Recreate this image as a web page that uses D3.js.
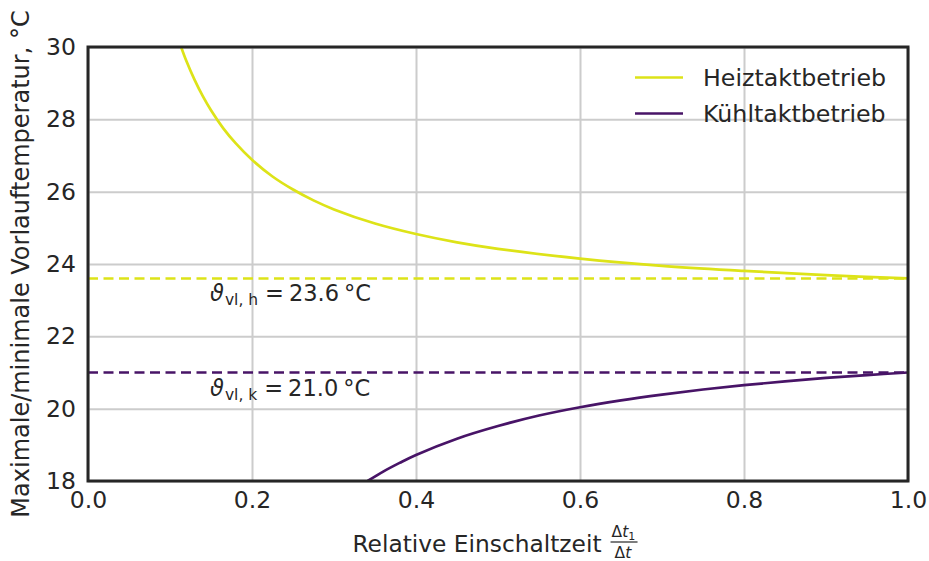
<!DOCTYPE html>
<html>
<head>
<meta charset="utf-8">
<script src="https://cdn.jsdelivr.net/npm/d3@7"></script>
<style>
body { margin: 0; background: #fff; }
text { font-family: "DejaVu Sans", sans-serif; fill: #262626; }
</style>
</head>
<body>
<svg width="929" height="561"></svg>
<script>
// relative on-time and flow temperature
var heatX = [0.112, 0.12, 0.13, 0.14, 0.15, 0.165, 0.18, 0.2, 0.225, 0.25, 0.275, 0.3, 0.35, 0.4, 0.45, 0.5, 0.6, 0.7, 0.8, 0.9, 1.0];
var heatY = [30.1, 29.61, 29.09, 28.64, 28.25, 27.75, 27.34, 26.88, 26.42, 26.06, 25.76, 25.51, 25.12, 24.83, 24.6, 24.42, 24.15, 23.95, 23.81, 23.69, 23.6];
var coolX = [0.341, 0.36, 0.38, 0.4, 0.45, 0.5, 0.55, 0.6, 0.65, 0.7, 0.75, 0.8, 0.85, 0.9, 0.95, 1.0];
var coolY = [18.0, 18.26, 18.5, 18.72, 19.17, 19.52, 19.81, 20.04, 20.23, 20.39, 20.53, 20.65, 20.755, 20.85, 20.93, 21.0];

// steady state limits (dashed) and their labels
var limits = [23.6, 21.0];
var limitSubs = ["vl, h", "vl, k"];
var limitText = ["23.6", "21.0"];

var seriesNames = ["Heiztaktbetrieb", "Kühltaktbetrieb"];
var colors = ["#dde318", "#481467"];

var xTicks = [0, 0.2, 0.4, 0.6, 0.8, 1.0];
var yTicks = [18, 20, 22, 24, 26, 28, 30];

var margin = {top: 47, right: 21, bottom: 80, left: 88},
    width = 929 - margin.left - margin.right,
    height = 561 - margin.top - margin.bottom;

var svg = d3.select("svg");
var g = svg.append("g")
    .attr("transform", "translate(" + margin.left + "," + margin.top + ")");

var x = d3.scaleLinear().domain([0, 1]).range([0, width]);
var y = d3.scaleLinear().domain([18, 30]).range([height, 0]);

g.append("clipPath").attr("id", "clip")
  .append("rect").attr("width", width).attr("height", height);

// grid
var xAxis = d3.axisBottom(x).tickValues(xTicks).tickSize(-height).tickPadding(10)
    .tickFormat(d3.format(".1f"));
var yAxis = d3.axisLeft(y).tickValues(yTicks).tickSize(-width).tickPadding(12)
    .tickFormat(d3.format("d"));

var gx = g.append("g").attr("transform", "translate(0," + height + ")").call(xAxis);
var gy = g.append("g").call(yAxis);
[gx, gy].forEach(function (a) {
    a.select(".domain").remove();
    a.selectAll(".tick line").attr("stroke", "#cccccc").attr("stroke-width", 2);
    a.selectAll(".tick text").style("font-size", "23.5px").attr("fill", "#262626");
});
gx.selectAll(".tick text").attr("dy", "0.71em");

var plot = g.append("g").attr("clip-path", "url(#clip)");

// dashed limits
limits.forEach(function (v, i) {
    plot.append("line")
        .attr("x1", x(0)).attr("x2", x(1))
        .attr("y1", y(v)).attr("y2", y(v))
        .attr("stroke", colors[i])
        .attr("stroke-width", 2.6)
        .attr("stroke-dasharray", "10,5.5");
});

var line = d3.line()
    .x(function (d) { return x(d[0]); })
    .y(function (d) { return y(d[1]); })
    .curve(d3.curveCatmullRom.alpha(0.5));

var series = [d3.zip(heatX, heatY), d3.zip(coolX, coolY)];
series.forEach(function (s, i) {
    plot.append("path")
        .datum(s)
        .attr("d", line)
        .attr("fill", "none")
        .attr("stroke", colors[i])
        .attr("stroke-width", 2.7);
});

// limit annotations
limits.forEach(function (v, i) {
    var t = g.append("text")
        .attr("x", x(0.15) - 1)
        .attr("y", y(v) + 23)
        .style("font-size", "22.5px");
    t.append("tspan").style("font-style", "italic").text("ϑ");
    t.append("tspan").style("font-size", "15.5px").attr("dx", 1).attr("dy", 4).text(limitSubs[i]);
    t.append("tspan").attr("dx", 7).attr("dy", -4).text("=");
    t.append("tspan").attr("dx", 5).text(limitText[i]);
    t.append("tspan").attr("dx", 5).text("°C");
});

// frame
g.append("rect")
    .attr("width", width).attr("height", height)
    .attr("fill", "none")
    .attr("stroke", "#262626")
    .attr("stroke-width", 3);

// legend
var legend = g.append("g").attr("transform", "translate(" + (width - 273) + ",30.5)");
seriesNames.forEach(function (name, i) {
    var row = legend.append("g").attr("transform", "translate(0," + (i * 36) + ")");
    row.append("line")
        .attr("x1", 0).attr("x2", 48)
        .attr("stroke", colors[i]).attr("stroke-width", 2.7);
    row.append("text")
        .attr("x", 68).attr("dy", "0.35em")
        .style("font-size", "23.7px")
        .text(name);
});

// y label
svg.append("text")
    .attr("transform", "translate(21," + (margin.top + height / 2) + ") rotate(-90)")
    .attr("text-anchor", "middle")
    .attr("dy", "0.35em")
    .style("font-size", "24px")
    .text("Maximale/minimale Vorlauftemperatur, °C");

// x label with fraction
var xl = svg.append("g");
var main = xl.append("text")
    .attr("y", 552)
    .style("font-size", "23.3px")
    .text("Relative Einschaltzeit");
var mainW = main.node().getComputedTextLength();
var fracW = 27, gap = 9;
var startX = margin.left + width / 2 - (mainW + gap + fracW) / 2 - 3;
main.attr("x", startX);
var fx = startX + mainW + gap;
var num = xl.append("text").attr("x", fx + 1).attr("y", 537).style("font-size", "15.5px");
num.append("tspan").text("Δ");
num.append("tspan").style("font-style", "italic").text("t");
num.append("tspan").style("font-size", "11px").attr("dy", 3).text("1");
xl.append("line")
    .attr("x1", fx).attr("x2", fx + fracW)
    .attr("y1", 542).attr("y2", 542)
    .attr("stroke", "#262626").attr("stroke-width", 1.2);
var den = xl.append("text").attr("x", fx + 4).attr("y", 558).style("font-size", "15.5px");
den.append("tspan").text("Δ");
den.append("tspan").style("font-style", "italic").text("t");
</script>
</body>
</html>
